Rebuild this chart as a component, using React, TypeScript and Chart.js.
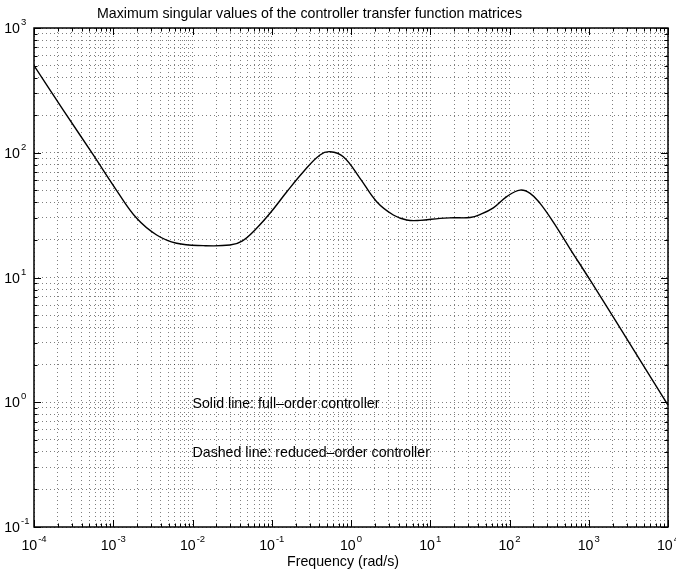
import React, { useEffect, useRef } from "react";
import { Chart, registerables } from "chart.js";

Chart.register(...registerables);

const TITLE = "Maximum singular values of the controller transfer function matrices";
const X_LABEL = "Frequency (rad/s)";
const NOTES = ["Solid line: full\u2013order controller", "Dashed line: reduced\u2013order controller"];
const NOTE_X = [0.01, 0.01];
const NOTE_Y = [1, 0.4];

const X_DECADES = [-4, -3, -2, -1, 0, 1, 2, 3, 4];
const Y_DECADES = [-1, 0, 1, 2, 3];

const freq = [
  1e-4, 2.34e-4, 5.6e-4, 1.1e-3, 1.98e-3, 3.53e-3, 6.3e-3, 0.0137, 0.0297, 0.0422,
  0.0631, 0.095, 0.155, 0.251, 0.406, 0.543, 0.8, 1.3, 2.11, 3.42,
  5.05, 7.43, 13.3, 19.5, 31.8, 42.5, 62.5, 92.3, 136, 182,
  243, 357, 581, 1038, 4436, 1e4,
];
const fullOrder = [
  500, 220, 96, 50, 29.8, 21.9, 18.8, 18.0, 18.2, 19.6,
  24.5, 32.7, 48.7, 70.5, 96, 102, 93, 62.4, 40.5, 31.7,
  28.9, 28.7, 29.8, 30.1, 30.3, 32.0, 36.2, 44.5, 50.2, 47.3,
  39.3, 27.8, 17.0, 9.55, 2.18, 0.95,
];

const FONT = '"Liberation Sans", Arial, Helvetica, sans-serif';

function decadeTicks(decs: number[]) {
  const out: { value: number }[] = [];
  for (let i = 0; i < decs.length; i++) {
    const p = Math.pow(10, decs[i]);
    if (i === decs.length - 1) {
      out.push({ value: p });
    } else {
      for (let m = 1; m <= 9; m++) out.push({ value: +(m * p).toPrecision(6) });
    }
  }
  return out;
}

function isDecade(v: number) {
  const l = Math.log10(v);
  return Math.abs(l - Math.round(l)) < 1e-9;
}

const axesPlugin = {
  id: "matlabAxes",
  afterDraw(chart: any) {
    const { ctx, chartArea: a, scales } = chart;
    const x = scales.x;
    const y = scales.y;
    ctx.save();
    ctx.strokeStyle = "#000";
    ctx.lineWidth = 1;
    ctx.beginPath();
    for (const t of x.ticks) {
      const px = Math.round(x.getPixelForValue(t.value)) + 0.5;
      const len = isDecade(t.value) ? 7 : 3.5;
      ctx.moveTo(px, a.bottom);
      ctx.lineTo(px, a.bottom - len);
      ctx.moveTo(px, a.top);
      ctx.lineTo(px, a.top + len);
    }
    for (const t of y.ticks) {
      const py = Math.round(y.getPixelForValue(t.value)) + 0.5;
      const len = isDecade(t.value) ? 7 : 3.5;
      ctx.moveTo(a.left, py);
      ctx.lineTo(a.left + len, py);
      ctx.moveTo(a.right, py);
      ctx.lineTo(a.right - len, py);
    }
    ctx.stroke();
    ctx.lineWidth = 1.5;
    ctx.strokeRect(a.left, a.top, a.right - a.left, a.bottom - a.top);

    ctx.fillStyle = "#000";
    ctx.textBaseline = "alphabetic";
    ctx.textAlign = "left";
    const big = "14.2px " + FONT;
    const small = "9.5px " + FONT;

    for (const d of X_DECADES) {
      const px = x.getPixelForValue(Math.pow(10, d));
      ctx.font = big;
      const w10 = ctx.measureText("10").width;
      ctx.font = small;
      const e = String(d);
      const we = ctx.measureText(e).width;
      const start = px - (w10 + 1 + we) / 2;
      ctx.font = big;
      ctx.fillText("10", start, a.bottom + 23);
      ctx.font = small;
      ctx.fillText(e, start + w10 + 1, a.bottom + 15);
    }
    for (const d of Y_DECADES) {
      const py = y.getPixelForValue(Math.pow(10, d));
      ctx.font = big;
      const w10 = ctx.measureText("10").width;
      ctx.fillText("10", 20 - w10, py + 5);
      ctx.font = small;
      ctx.fillText(String(d), 21, py - 3);
    }

    ctx.font = big;
    ctx.fillText(TITLE, 97, 18);
    ctx.textAlign = "center";
    ctx.fillText(X_LABEL, 343, a.bottom + 39);
    ctx.textAlign = "left";
    for (let i = 0; i < NOTES.length; i++) {
      const px = x.getPixelForValue(NOTE_X[i]);
      const py = y.getPixelForValue(NOTE_Y[i]);
      ctx.fillText(NOTES[i], px, py + 5.5);
    }
    ctx.restore();
  },
};

export default function App() {
  const ref = useRef<HTMLCanvasElement | null>(null);
  useEffect(() => {
    if (!ref.current) return;
    const gridOpts = {
      color: "rgba(0,0,0,0.5)",
      lineWidth: 1,
      drawTicks: false,
    };
    const chart = new Chart(ref.current, {
      type: "line",
      data: {
        datasets: [
          {
            label: "full-order",
            data: freq.map((f, i) => ({ x: f, y: fullOrder[i] })),
            borderColor: "#000",
            borderWidth: 1.4,
            pointRadius: 0,
            tension: 0.4,
            fill: false,
          },
        ],
      },
      options: {
        animation: false,
        responsive: false,
        devicePixelRatio: 1,
        layout: { padding: { left: 34, top: 28, right: 8, bottom: 46 } },
        plugins: { legend: { display: false }, tooltip: { enabled: false }, title: { display: false } },
        scales: {
          x: {
            type: "logarithmic",
            min: 1e-4,
            max: 1e4,
            afterBuildTicks: (s: any) => {
              s.ticks = decadeTicks(X_DECADES);
            },
            ticks: { display: false, autoSkip: false },
            grid: gridOpts,
            border: { display: false, dash: [1, 3] },
          },
          y: {
            type: "logarithmic",
            min: 0.1,
            max: 1000,
            afterBuildTicks: (s: any) => {
              s.ticks = decadeTicks(Y_DECADES);
            },
            ticks: { display: false, autoSkip: false },
            grid: gridOpts,
            border: { display: false, dash: [1, 3] },
          },
        },
      },
      plugins: [axesPlugin],
    } as any);
    return () => chart.destroy();
  }, []);
  return (
    <div style={{ position: "fixed", left: 0, top: 0, width: 676, height: 573, background: "#fff" }}>
      <canvas ref={ref} width={676} height={573} />
    </div>
  );
}
